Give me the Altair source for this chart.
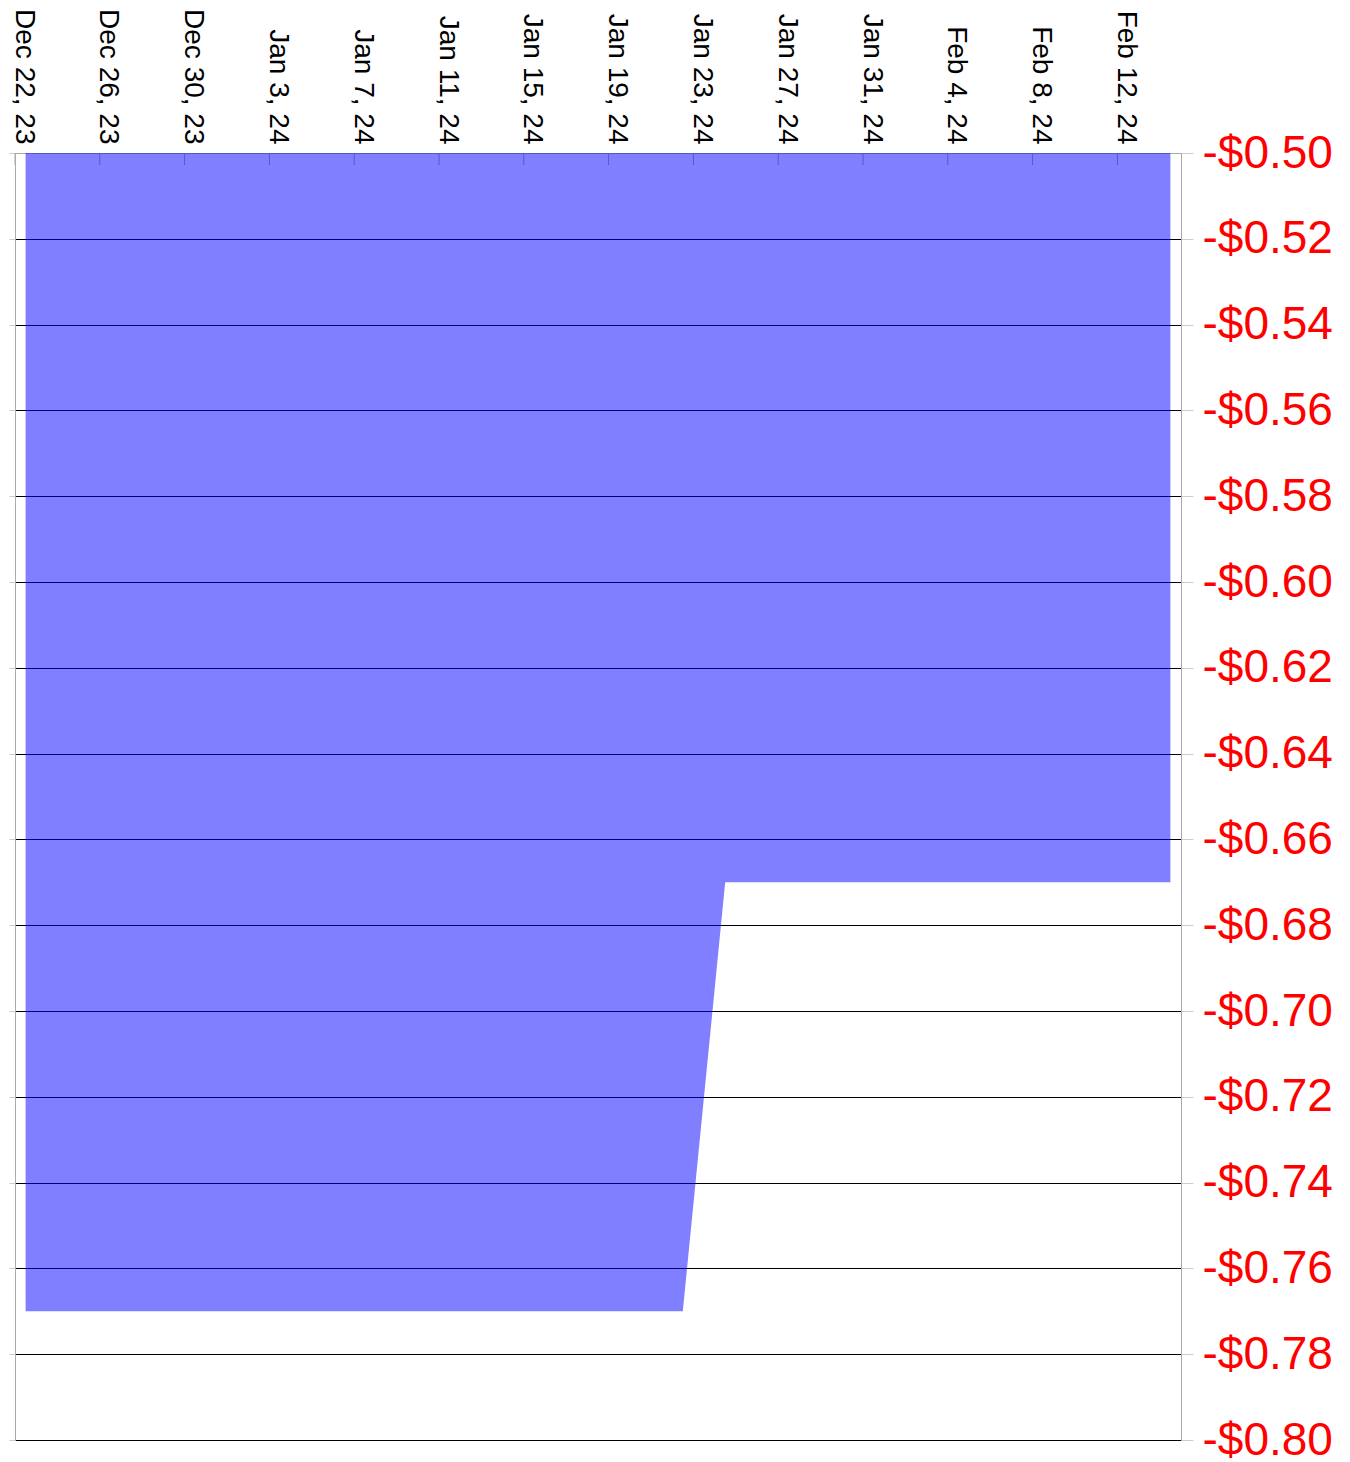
import altair as alt
import pandas as pd

# Data
dates = ["2023-12-22T12:00:00", "2024-01-22T12:00:00", "2024-01-24T12:00:00", "2024-02-14T12:00:00"]
values = [-0.77, -0.77, -0.67, -0.67]

tick_dates = ["2023-12-22T00:00:00", "2023-12-26T00:00:00", "2023-12-30T00:00:00",
              "2024-01-03T00:00:00", "2024-01-07T00:00:00", "2024-01-11T00:00:00",
              "2024-01-15T00:00:00", "2024-01-19T00:00:00", "2024-01-23T00:00:00",
              "2024-01-27T00:00:00", "2024-01-31T00:00:00", "2024-02-04T00:00:00",
              "2024-02-08T00:00:00", "2024-02-12T00:00:00"]
tick_parts = [(2023, 12, 22), (2023, 12, 26), (2023, 12, 30), (2024, 1, 3), (2024, 1, 7),
              (2024, 1, 11), (2024, 1, 15), (2024, 1, 19), (2024, 1, 23), (2024, 1, 27),
              (2024, 1, 31), (2024, 2, 4), (2024, 2, 8), (2024, 2, 12)]
y_ticks = [-0.80, -0.78, -0.76, -0.74, -0.72, -0.70, -0.68, -0.66,
           -0.64, -0.62, -0.60, -0.58, -0.56, -0.54, -0.52, -0.50]
x_domain = [(2023, 12, 22), (2024, 2, 15)]
y_domain = [-0.80, -0.50]

df = pd.DataFrame({"date": dates, "value": values})
ticks_df = pd.DataFrame({"date": tick_dates})

FONT = "Liberation Sans"

xscale = alt.Scale(domain=[alt.DateTime(year=y, month=m, date=d) for (y, m, d) in x_domain])
yscale = alt.Scale(domain=y_domain, nice=False, zero=False)

x_axis = alt.Axis(
    orient="top",
    values=[alt.DateTime(year=y, month=m, date=d) for (y, m, d) in tick_parts],
    format="%b %-d, %y",
    labelAngle=90,
    labelAlign="right",
    labelBaseline="alphabetic",
    labelFontSize=28,
    labelFont=FONT,
    labelColor="black",
    labelPadding=9,
    labelFlush=False,
    labelOverlap=False,
    labelLimit=400,
    ticks=False,
    tickSize=0,
    grid=False,
    domainColor="#aaaaaa",
    title=None,
)

right_axis = alt.Axis(
    orient="right",
    values=y_ticks,
    labelExpr="datum.value < 0 ? '-$' + format(-datum.value, '.2f') : '$' + format(datum.value, '.2f')",
    labelFontSize=46,
    labelFont=FONT,
    labelColor="red",
    labelPadding=9,
    labelOverlap=False,
    labelLimit=400,
    tickSize=12,
    tickColor="#cccccc",
    domainColor="#aaaaaa",
    grid=True,
    gridColor="black",
    gridOpacity=1,
    title=None,
)

left_axis = alt.Axis(
    orient="left",
    values=y_ticks,
    labels=False,
    tickSize=6,
    tickColor="#cccccc",
    domainColor="#aaaaaa",
    grid=False,
    title=None,
)

tick_rules = alt.Chart(ticks_df).mark_rule(color="#aaaaaa").encode(
    x=alt.X("date:T", scale=xscale, axis=x_axis),
    y=alt.value(0),
    y2=alt.value(12),
)

left = alt.Chart(df).mark_line(opacity=0).encode(
    x=alt.X("date:T", scale=xscale, axis=x_axis),
    y=alt.Y("value:Q", scale=yscale, axis=left_axis),
)

area = alt.Chart(df).mark_area(color="blue", opacity=0.5, interpolate="linear").encode(
    x=alt.X("date:T", scale=xscale, axis=x_axis),
    y=alt.Y("value:Q", scale=yscale, axis=right_axis),
    y2=alt.datum(-0.5),
)

chart = (
    alt.layer(tick_rules, left, area)
    .resolve_axis(y="independent")
    .properties(width=1166, height=1287, padding=0, background="white")
    .configure_view(strokeWidth=0)
)

chart.save("out.html", embed_options={"renderer": "svg", "actions": False})
